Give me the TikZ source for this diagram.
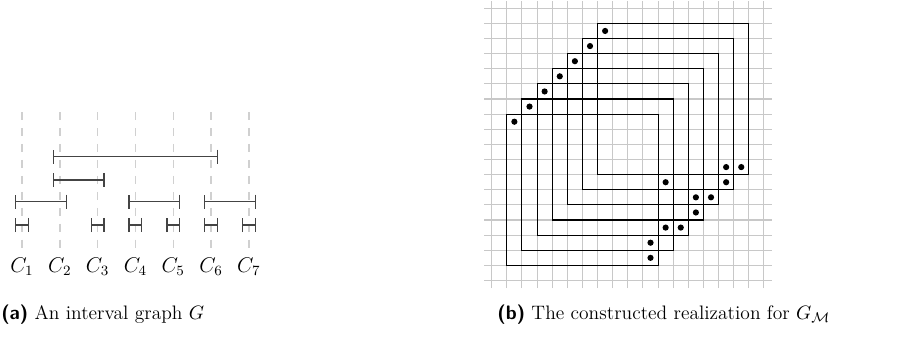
\documentclass[tikz,border=0pt]{standalone}
\usepackage{tikz}
\usetikzlibrary{arrows.meta, positioning}
\usepackage{xcolor}
\definecolor{gridgray}{HTML}{C8C8C8}
\definecolor{colgray}{HTML}{D0D0D0}
\definecolor{ivgray}{HTML}{444444}

\begin{document}
\begin{tikzpicture}[
    colline/.style={colgray, line width=0.8pt, dash pattern=on 4.5pt off 4.5pt},
    ival/.style={{Bar[width=2.8mm]}-{Bar[width=2.8mm]}, line width=0.75pt, color=ivgray},
    gridln/.style={gridgray, line width=0.6pt},
    sq/.style={black, line width=0.6pt},
    caption/.style={anchor=west, inner sep=0pt, font=\fontsize{11}{13}\selectfont},
]
\useasboundingbox (0,0) rectangle (18.108,6.743);

% (a) interval graph
\begin{scope}[shift={(0.436,0)}]
    \foreach \k in {1,...,7} {
        \draw[colline] ({0.75*(\k-1)},4.52) -- ({0.75*(\k-1)},1.825);
        \node[font=\large] (lbl\k) at ({0.75*(\k-1)},1.454) {$C_{\k}$};
    }
    \foreach \y/\a/\b in {3.635/2/6, 3.173/2/3, 2.743/1/2, 2.743/4/5, 2.743/6/7,
                          2.281/1/1, 2.281/3/3, 2.281/4/4, 2.281/5/5, 2.281/6/6, 2.281/7/7}
        \draw[ival] ({0.75*(\a-1)-0.14},\y) -- ({0.75*(\b-1)+0.14},\y);
\end{scope}
\node[caption] (capa) at (0.02,0.50) {\textsf{\textbf{(a)}} An interval graph $G$};

% (b) realization
\begin{scope}[shift={(9.752,1.179)}, x=0.3cm, y=0.3cm]
    \draw[gridln, step=1] (-0.5,-0.5) grid (18.5,18.5);
    \foreach \k in {1,...,7} {
        \draw[sq] ({8-\k},{8-\k}) rectangle ({18-\k},{18-\k});
        \fill ({8.5-\k},{17.5-\k}) circle[radius=1.75pt];
    }
    \foreach \i/\r in {15.5/7.5, 16.5/7.5, 11.5/6.5, 15.5/6.5, 13.5/5.5, 14.5/5.5,
                       13.5/4.5, 11.5/3.5, 12.5/3.5, 10.5/2.5, 10.5/1.5}
        \fill (\i,\r) circle[radius=1.75pt];
\end{scope}
\node[caption] (capb) at (9.86,0.50) {\textsf{\textbf{(b)}} The constructed realization for $G_{\mathcal{M}}$};
\end{tikzpicture}
\end{document}
